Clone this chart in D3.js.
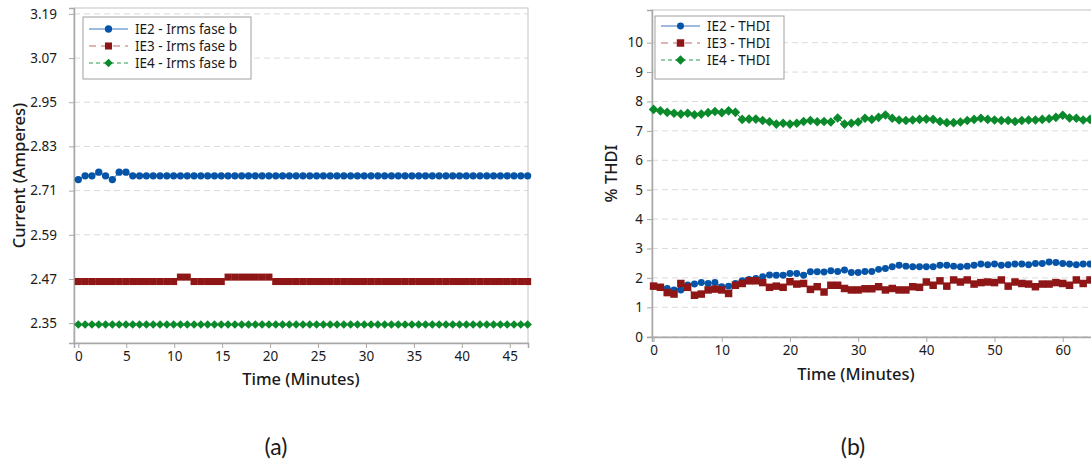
<!DOCTYPE html>
<html>
<head>
<meta charset="utf-8" />
<script src="https://cdn.jsdelivr.net/npm/d3@7"></script>
<title>irms / thdi</title>
<style>
body { margin: 0; background: #fff; }
svg text { font-family: "Noto Sans", "Open Sans", sans-serif; fill: #1a1a1a; }
</style>
</head>
<body>
<script>
// (a) Irms fase b, one sample every ~0.71 min
var timeA = [0,0.71,1.42,2.13,2.84,3.55,4.26,4.97,5.68,6.39,7.1,7.81,8.52,9.23,9.94,10.65,11.36,12.07,12.78,13.49,
  14.2,14.91,15.62,16.33,17.04,17.75,18.46,19.17,19.88,20.59,21.3,22.01,22.72,23.43,24.14,24.85,25.56,26.27,26.98,27.69,
  28.4,29.11,29.82,30.53,31.24,31.95,32.66,33.37,34.08,34.79,35.5,36.21,36.92,37.63,38.34,39.05,39.76,40.47,41.18,41.89,
  42.6,43.31,44.02,44.73,45.44,46.15,46.86];
var ie2Irms = [2.74,2.75,2.75,2.76,2.75,2.74,2.76,2.76,2.75,2.75,2.75,2.75,2.75,2.75,2.75,2.75,2.75,2.75,2.75,2.75,
  2.75,2.75,2.75,2.75,2.75,2.75,2.75,2.75,2.75,2.75,2.75,2.75,2.75,2.75,2.75,2.75,2.75,2.75,2.75,2.75,
  2.75,2.75,2.75,2.75,2.75,2.75,2.75,2.75,2.75,2.75,2.75,2.75,2.75,2.75,2.75,2.75,2.75,2.75,2.75,2.75,
  2.75,2.75,2.75,2.75,2.75,2.75,2.75];
var ie3Irms = [2.463,2.463,2.463,2.463,2.463,2.463,2.463,2.463,2.463,2.463,2.463,2.463,2.463,2.463,2.463,2.475,2.475,2.463,2.463,2.463,
  2.463,2.463,2.475,2.475,2.475,2.475,2.475,2.475,2.475,2.463,2.463,2.463,2.463,2.463,2.463,2.463,2.463,2.463,2.463,2.463,
  2.463,2.463,2.463,2.463,2.463,2.463,2.463,2.463,2.463,2.463,2.463,2.463,2.463,2.463,2.463,2.463,2.463,2.463,2.463,2.463,
  2.463,2.463,2.463,2.463,2.463,2.463,2.463];
var ie4Irms = [2.346,2.346,2.346,2.346,2.346,2.346,2.346,2.346,2.346,2.346,2.346,2.346,2.346,2.346,2.346,2.346,2.346,2.346,2.346,2.346,
  2.346,2.346,2.346,2.346,2.346,2.346,2.346,2.346,2.346,2.346,2.346,2.346,2.346,2.346,2.346,2.346,2.346,2.346,2.346,2.346,
  2.346,2.346,2.346,2.346,2.346,2.346,2.346,2.346,2.346,2.346,2.346,2.346,2.346,2.346,2.346,2.346,2.346,2.346,2.346,2.346,
  2.346,2.346,2.346,2.346,2.346,2.346,2.346];
var ticksYA = [2.35,2.47,2.59,2.71,2.83,2.95,3.07,3.19];
var ticksXA = [0,5,10,15,20,25,30,35,40,45];

// (b) THDI, one sample per minute
var timeB = [0,1,2,3,4,5,6,7,8,9,10,11,12,13,14,15,16,17,18,19,20,21,22,23,24,25,26,27,28,29,30,31,32,
  33,34,35,36,37,38,39,40,41,42,43,44,45,46,47,48,49,50,51,52,53,54,55,56,57,58,59,60,61,62,63,64,65];
var ie2Thdi = [1.72,1.68,1.64,1.59,1.59,1.76,1.79,1.84,1.81,1.84,1.70,1.72,1.81,1.90,1.95,1.98,2.04,2.10,2.09,2.09,
  2.15,2.15,2.09,2.21,2.21,2.20,2.24,2.22,2.27,2.18,2.18,2.22,2.22,2.29,2.32,2.38,2.43,2.40,2.38,2.38,
  2.38,2.38,2.43,2.43,2.40,2.38,2.40,2.43,2.47,2.45,2.47,2.43,2.45,2.47,2.47,2.45,2.49,2.49,2.54,2.52,
  2.49,2.47,2.45,2.47,2.47,2.46];
var ie3Thdi = [1.72,1.68,1.50,1.45,1.81,1.68,1.41,1.45,1.59,1.62,1.59,1.47,1.75,1.81,1.90,1.90,1.84,1.68,1.72,1.68,
  1.87,1.79,1.81,1.61,1.70,1.52,1.75,1.75,1.64,1.59,1.59,1.63,1.63,1.70,1.59,1.64,1.59,1.59,1.70,1.68,
  1.86,1.75,1.90,1.72,1.93,1.86,1.93,1.79,1.84,1.86,1.84,1.93,1.72,1.86,1.81,1.79,1.70,1.79,1.79,1.84,
  1.81,1.75,1.93,1.81,1.93,1.88];
var ie4Thdi = [7.73,7.68,7.63,7.60,7.57,7.60,7.55,7.57,7.62,7.66,7.62,7.68,7.63,7.39,7.40,7.40,7.35,7.31,7.23,7.26,
  7.23,7.26,7.32,7.35,7.31,7.32,7.30,7.44,7.23,7.26,7.30,7.43,7.39,7.46,7.54,7.43,7.37,7.35,7.37,7.39,
  7.40,7.39,7.32,7.28,7.28,7.30,7.35,7.39,7.43,7.39,7.37,7.35,7.35,7.32,7.35,7.37,7.37,7.39,7.41,7.46,
  7.53,7.44,7.43,7.37,7.39,7.40];
var ticksYB = [0,1,2,3,4,5,6,7,8,9,10];
var ticksXB = [0,10,20,30,40,50,60];

var blue = "#0654a8", red = "#8e1616", green = "#0a8a2a";

var svg = d3.select("body").append("svg")
  .attr("width", 1091)
  .attr("height", 461);

function drawPanel(p) {
  var g = svg.append("g");
  var x = d3.scaleLinear().domain(p.xDomain).range([p.left, p.right]);
  var y = d3.scaleLinear().domain(p.yDomain).range([p.bottom, p.top]);

  g.selectAll("line.grid").data(p.yTicks).enter().append("line")
    .attr("class", "grid")
    .attr("x1", p.left).attr("x2", p.right)
    .attr("y1", function(d) { return y(d); })
    .attr("y2", function(d) { return y(d); })
    .attr("stroke", "#dadada")
    .attr("stroke-width", 1)
    .attr("stroke-dasharray", "6,4");

  g.append("rect")
    .attr("x", p.left).attr("y", p.top)
    .attr("width", p.right - p.left).attr("height", p.bottom - p.top)
    .attr("fill", "none")
    .attr("stroke", "#c4c4c4")
    .attr("stroke-width", 1);

  var ya = g.append("g")
    .attr("transform", "translate(" + p.left + ",0)")
    .call(d3.axisLeft(y).tickValues(p.yTicks).tickFormat(p.yFormat).tickSize(5).tickPadding(p.yPad));
  var xa = g.append("g")
    .attr("transform", "translate(0," + p.bottom + ")")
    .call(d3.axisBottom(x).tickValues(p.xTicks).tickFormat(d3.format("d")).tickSize(5).tickPadding(3));
  [ya, xa].forEach(function(a) {
    a.select(".domain").attr("stroke", "#a8a8a8").attr("stroke-width", 1.5);
    a.selectAll(".tick line").attr("stroke", "#a8a8a8");
    a.selectAll(".tick text").attr("font-size", 13.5).attr("fill", "#1a1a1a")
      .style("font-family", "'Noto Sans', sans-serif");
  });

  var plot = g.append("g");
  p.series.forEach(function(s) {
    var pts = p.time.map(function(t, i) { return [t, s.values[i]]; });
    plot.append("path")
      .datum(pts)
      .attr("fill", "none")
      .attr("stroke", s.color)
      .attr("stroke-width", 1)
      .attr("d", d3.line().x(function(d) { return x(d[0]); }).y(function(d) { return y(d[1]); }));
    plot.append("g").selectAll("path").data(pts).enter().append("path")
      .attr("d", d3.symbol().type(s.symbol).size(s.size))
      .attr("transform", function(d) {
        return "translate(" + x(d[0]) + "," + y(d[1]) + ")" + (s.rot ? " rotate(45)" : "");
      })
      .attr("fill", s.color);
  });

  var lg = g.append("g");
  lg.append("rect")
    .attr("x", p.legend.x).attr("y", p.legend.y)
    .attr("width", p.legend.w).attr("height", p.legend.h)
    .attr("fill", "#fff")
    .attr("stroke", "#a0a0a0")
    .attr("stroke-width", 1);
  p.series.forEach(function(s, i) {
    var cy = p.legend.y + p.legend.row0 + i * p.legend.step;
    var x0 = p.legend.x + 6, x1 = x0 + 39;
    lg.append("line")
      .attr("x1", x0).attr("x2", x1).attr("y1", cy).attr("y2", cy)
      .attr("stroke", s.lineColor)
      .attr("stroke-width", 1)
      .attr("stroke-dasharray", s.dash);
    lg.append("path")
      .attr("d", d3.symbol().type(s.symbol).size(s.size))
      .attr("transform", "translate(" + (x0 + x1) / 2 + "," + cy + ")" + (s.rot ? " rotate(45)" : ""))
      .attr("fill", s.color);
    lg.append("text")
      .attr("x", x1 + 7).attr("y", cy)
      .attr("dy", "0.35em")
      .attr("font-size", 13.5)
      .text(s.name);
  });

  g.append("text")
    .attr("transform", "translate(" + p.yLabelX + "," + (p.top + p.bottom) / 2 + ") rotate(-90)")
    .attr("text-anchor", "middle")
    .attr("dy", "0.35em")
    .attr("font-size", 16.5)
    .attr("font-weight", 500)
    .text(p.yLabel);
  g.append("text")
    .attr("x", p.xLabelX).attr("y", p.xLabelY)
    .attr("text-anchor", "middle")
    .attr("dy", "0.35em")
    .attr("font-size", 16.5)
    .attr("font-weight", 500)
    .text("Time (Minutes)");
  g.append("text")
    .attr("x", p.capX).attr("y", 455)
    .attr("text-anchor", "middle")
    .attr("font-size", 23)
    .style("font-family", "Lato, sans-serif")
    .text(p.caption);
}

drawPanel({
  left: 74, right: 528, top: 8, bottom: 343,
  xDomain: [-0.45, 46.9], yDomain: [2.296, 3.206],
  xTicks: ticksXA, yTicks: ticksYA, yFormat: d3.format(".2f"), yPad: 12,
  time: timeA,
  series: [
    {name: "IE2 - Irms fase b", values: ie2Irms, color: blue, lineColor: "#3a74c4", dash: null, symbol: d3.symbolCircle, size: 42},
    {name: "IE3 - Irms fase b", values: ie3Irms, color: red, lineColor: "#c46a6a", dash: "7,5", symbol: d3.symbolSquare, size: 50},
    {name: "IE4 - Irms fase b", values: ie4Irms, color: green, lineColor: "#2e9a48", dash: "4,3", symbol: d3.symbolSquare, size: 36, rot: true}
  ],
  legend: {x: 83, y: 17, w: 168, h: 62, row0: 12, step: 17},
  yLabel: "Current (Amperes)", yLabelX: 19,
  xLabelX: 301, xLabelY: 379,
  capX: 276, caption: "(a)"
});

drawPanel({
  left: 652, right: 1120, top: 10, bottom: 337,
  xDomain: [-0.23, 68.4], yDomain: [-0.01, 11.11],
  xTicks: ticksXB, yTicks: ticksYB, yFormat: d3.format("d"), yPad: 4,
  time: timeB,
  series: [
    {name: "IE2 - THDI", values: ie2Thdi, color: blue, lineColor: "#3a74c4", dash: null, symbol: d3.symbolCircle, size: 38},
    {name: "IE3 - THDI", values: ie3Thdi, color: red, lineColor: "#c46a6a", dash: "7,5", symbol: d3.symbolSquare, size: 56},
    {name: "IE4 - THDI", values: ie4Thdi, color: green, lineColor: "#2e9a48", dash: "4,3", symbol: d3.symbolSquare, size: 46, rot: true}
  ],
  legend: {x: 655, y: 16, w: 129, h: 63, row0: 10, step: 17},
  yLabel: "% THDI", yLabelX: 611,
  xLabelX: 856, xLabelY: 374,
  capX: 853, caption: "(b)"
});
</script>
</body>
</html>
